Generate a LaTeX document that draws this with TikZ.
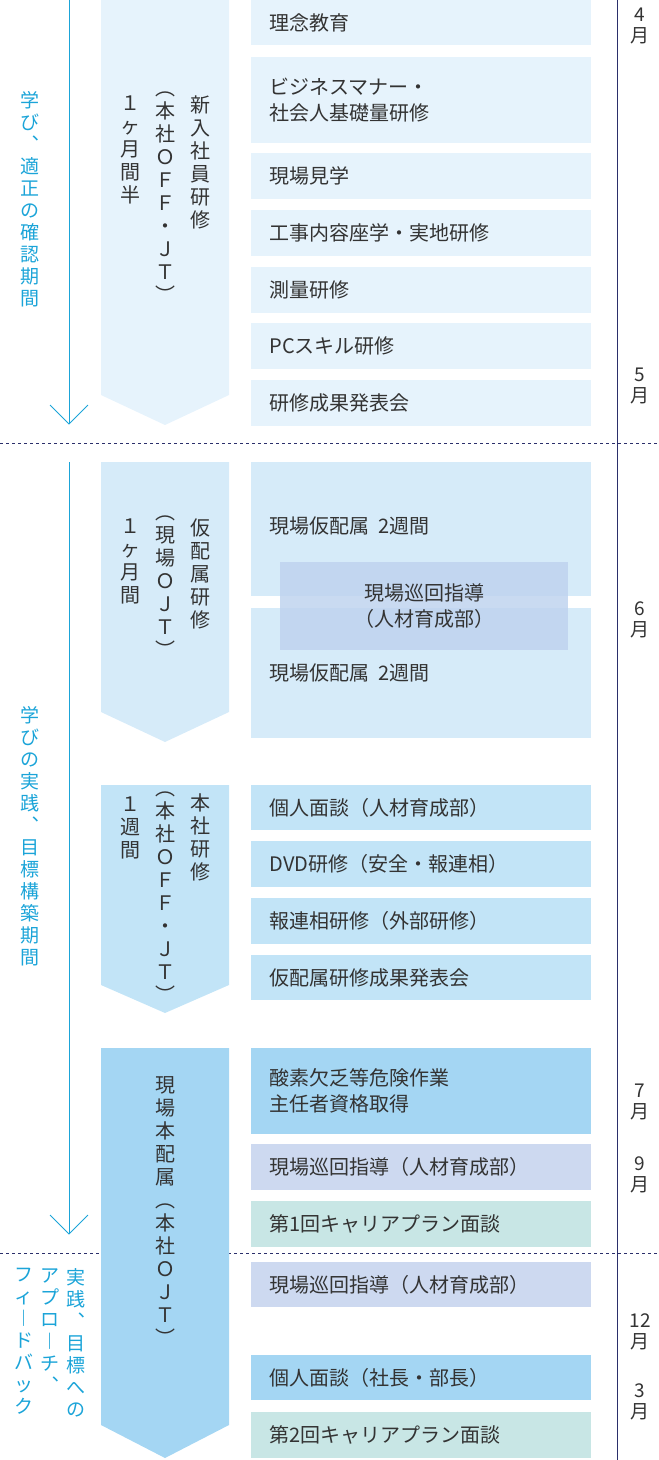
\documentclass[tikz,border=0pt]{standalone}
\usepackage{fontspec}
\setmainfont{Noto Sans CJK JP}
\definecolor{txt}{HTML}{333333}
\definecolor{blu}{HTML}{1BA4D8}
\definecolor{cA}{HTML}{E6F3FC}
\definecolor{cB}{HTML}{D6EBF9}
\definecolor{cC}{HTML}{C2E4F7}
\definecolor{cD}{HTML}{A4D6F3}
\definecolor{cO}{HTML}{BFD3EF}
\definecolor{cL}{HTML}{CDD9F0}
\definecolor{cT}{HTML}{C8E6E5}
\definecolor{navy}{HTML}{2B2F6B}
\begin{document}
\begin{tikzpicture}[x=1pt,y=-1pt,
  bx/.style={text=txt,font=\fontsize{20}{26}\selectfont,align=left,anchor=west},
  vt/.style={text=txt,font=\fontsize{20}{23}\selectfont,align=center,anchor=north},
  vb/.style={text=blu,font=\fontsize{19}{22}\selectfont,align=center,anchor=north},
  mo/.style={text=txt,font=\fontsize{19}{21}\selectfont,align=center,anchor=north},
  dsh/.style={navy,dashed,line width=0.6pt}]
\useasboundingbox (0,0) rectangle (659,1460);
% timeline
\draw[navy,line width=1pt] (617,0) -- (617,1460);
\draw[dsh] (0,443) -- (659,443);
\draw[dsh] (0,1253) -- (659,1253);
% left arrows
\draw[blu,line width=1pt] (69,0) -- (69,424);
\draw[blu,line width=1pt] (50,405) -- (69,424) -- (88,405);
\draw[blu,line width=1pt] (69,462) -- (69,1234);
\draw[blu,line width=1pt] (50,1215) -- (69,1234) -- (88,1215);
\node[vb] (l1) at (30,88) {学\\び\\︑\\適\\正\\の\\確\\認\\期\\間};
\node[vb] (l2) at (30,703) {学\\び\\の\\実\\践\\︑\\目\\標\\構\\築\\期\\間};
\node[vb] (l3a) at (76,1265) {実\\践\\︑\\目\\標\\へ\\の};
\node[vb] (l3b) at (50,1265) {ア\\プ\\ロ\\︱\\チ\\︑};
\node[vb] (l3c) at (24,1265) {フ\\ィ\\︱\\ド\\バ\\ッ\\ク};
% chevrons
\fill[cA] (101,0) -- (229,0) -- (229,395) -- (165,425) -- (101,395) -- cycle;
\fill[cB] (101,462) -- (229,462) -- (229,712) -- (165,742) -- (101,712) -- cycle;
\fill[cC] (101,785) -- (229,785) -- (229,985) -- (165,1013) -- (101,985) -- cycle;
\fill[cD] (101,1048) -- (229,1048) -- (229,1425) -- (165,1458) -- (101,1425) -- cycle;
\node[vt] (s1a) at (200,92) {新\\入\\社\\員\\研\\修};
\node[vt] (s1b) at (165,88) {︵\\本\\社\\Ｏ\\Ｆ\\Ｆ\\・\\Ｊ\\Ｔ\\︶};
\node[vt] (s1c) at (130,92) {１\\ヶ\\月\\間\\半};
\node[vt] (s2a) at (200,515) {仮\\配\\属\\研\\修};
\node[vt] (s2b) at (165,512) {︵\\現\\場\\Ｏ\\Ｊ\\Ｔ\\︶};
\node[vt] (s2c) at (130,515) {１\\ヶ\\月\\間};
\node[vt] (s3a) at (200,790) {本\\社\\研\\修};
\node[vt] (s3b) at (165,788) {︵\\本\\社\\Ｏ\\Ｆ\\Ｆ\\・\\Ｊ\\Ｔ\\︶};
\node[vt] (s3c) at (130,793) {１\\週\\間};
\node[vt] (s4) at (165,1073) {現\\場\\本\\配\\属\\︵\\本\\社\\Ｏ\\Ｊ\\Ｔ\\︶};
% boxes
\foreach \ya/\yb/\c/\t in {0/45/cA/理念教育,
 57/143/cA/{ビジネスマナー・\\社会人基礎量研修},
 153/199/cA/現場見学, 210/256/cA/工事内容座学・実地研修,
 267/313/cA/測量研修, 323/369/cA/PCスキル研修, 380/426/cA/研修成果発表会,
 785/830/cC/個人面談（人材育成部）, 841/887/cC/DVD研修（安全・報連相）,
 898/944/cC/報連相研修（外部研修）, 955/1000/cC/仮配属研修成果発表会,
 1048/1134/cD/{酸素欠乏等危険作業\\主任者資格取得},
 1144/1190/cL/現場巡回指導（人材育成部）, 1201/1247/cT/第1回キャリアプラン面談,
 1262/1307/cL/現場巡回指導（人材育成部）, 1355/1400/cD/個人面談（社長・部長）,
 1412/1458/cT/第2回キャリアプラン面談}{
  \fill[\c] (251,\ya) rectangle (591,\yb);
  \node[bx] at (266,{(\ya+\yb)/2}) {\t};
}
\fill[cB] (251,462) rectangle (591,596);
\fill[cB] (251,608) rectangle (591,738);
\node[bx] (p1) at (266,526) {現場仮配属\ \ 2週間};
\node[bx] (p2) at (266,673) {現場仮配属\ \ 2週間};
\fill[cO,opacity=0.85] (280,562) rectangle (568,650);
\node[text=txt,font=\fontsize{20}{26}\selectfont,align=center] (ov) at (424,606) {現場巡回指導\\（人材育成部）};
% months
\node[mo] (m4) at (640,4) {4\\月};
\node[mo] (m5) at (640,364) {5\\月};
\node[mo] (m6) at (640,598) {6\\月};
\node[mo] (m7) at (640,1080) {7\\月};
\node[mo] (m9) at (640,1153) {9\\月};
\node[mo] (m12) at (640,1310) {12\\月};
\node[mo] (m3) at (640,1380) {3\\月};
\end{tikzpicture}
\end{document}
